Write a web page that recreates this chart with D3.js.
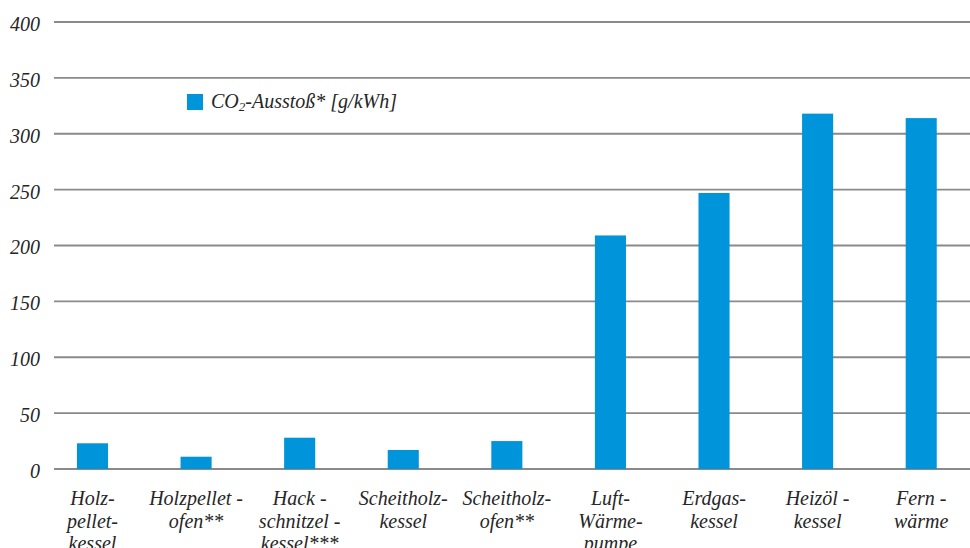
<!DOCTYPE html>
<html><head><meta charset="utf-8">
<script src="https://cdn.jsdelivr.net/npm/d3@7"></script>
</head><body style="margin:0;background:#fff"><svg id="c" width="970" height="548"></svg>
<script>
const categories = ["Holz-pellet-kessel","Holzpellet-ofen**","Hack-schnitzel-kessel***","Scheitholz-kessel","Scheitholz-ofen**","Luft-Wärme-pumpe","Erdgas-kessel","Heizöl-kessel","Fern-wärme"];
const labelLines = [["Holz-","pellet-","kessel"],["Holzpellet -","ofen**"],["Hack -","schnitzel -","kessel***"],["Scheitholz-","kessel"],["Scheitholz-","ofen**"],["Luft-","Wärme-","pumpe"],["Erdgas-","kessel"],["Heizöl -","kessel"],["Fern -","wärme"]];
const values = [23, 11, 28, 17, 25, 209, 247, 318, 314];
const yTicks = [0, 50, 100, 150, 200, 250, 300, 350, 400];

const TSTYLE = "font-family:'Liberation Serif';font-style:italic;font-size:20px;fill:#262626";
const svg = d3.select("#c");
const x = d3.scaleBand().domain(categories).range([40.7, 973]).paddingInner(0.7).paddingOuter(0.35);
const y = d3.scaleLinear().domain([0, 400]).range([469, 22]);

// gridlines
svg.append("g").selectAll("line").data(yTicks).join("line")
  .attr("x1", 54).attr("x2", 970)
  .attr("y1", d => y(d)).attr("y2", d => y(d))
  .attr("stroke", "#8a8a8a").attr("stroke-width", 1.8);

// y labels
const yAxis = d3.axisLeft(y).tickValues(yTicks).tickSize(0).tickPadding(0);
const ya = svg.append("g").attr("transform", "translate(40,0)").call(yAxis);
ya.attr("font-family", null).attr("font-size", null);
ya.select(".domain").remove();
ya.selectAll("text").attr("dy", "0.42em").attr("fill", null).attr("style", TSTYLE);

// bars
svg.append("g").selectAll("rect").data(values).join("rect")
  .attr("x", (d, i) => x(categories[i])).attr("width", x.bandwidth())
  .attr("y", d => y(d)).attr("height", d => y(0) - y(d))
  .attr("fill", "#0095da");

// category labels
const cl = svg.append("g").selectAll("text").data(labelLines).join("text")
  .attr("text-anchor", "middle").attr("style", TSTYLE)
  .attr("x", (d, i) => x(categories[i]) + x.bandwidth() / 2);
cl.selectAll("tspan").data(d => d).join("tspan")
  .attr("x", function(){ return this.parentNode.getAttribute("x"); })
  .attr("y", (d, j) => 505 + j * 22.5).text(d => d);

// legend
svg.append("rect").attr("x", 187).attr("y", 94).attr("width", 16).attr("height", 16).attr("fill", "#0095da");
const lt = svg.append("text").attr("x", 211).attr("y", 108).attr("style", TSTYLE);
lt.append("tspan").text("CO");
lt.append("tspan").attr("style", "font-size:13px").attr("dy", 3).text("2");
lt.append("tspan").attr("dy", -3).text("-Ausstoß* [g/kWh]");
</script></body></html>
